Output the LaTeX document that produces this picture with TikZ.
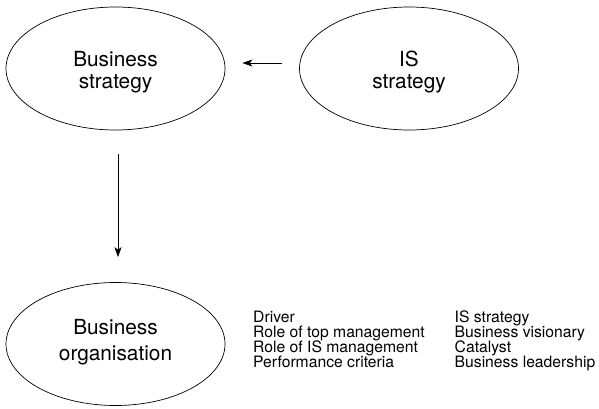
\documentclass[tikz,border=0pt]{standalone}
\usepackage{fontspec}
\setmainfont{TeX Gyre Heros}
\usetikzlibrary{shapes.geometric,arrows.meta}
\begin{document}
\begin{tikzpicture}[x=1pt,y=-1pt,
  oval/.style={ellipse,draw,line width=0.7pt,inner sep=0pt,minimum width=219pt,minimum height=123pt},
  bigtext/.style={font=\fontsize{20.8}{22}\selectfont,inner sep=0pt,anchor=base},
  smalltext/.style={font=\fontsize{15.7}{15}\selectfont,inner sep=0pt,anchor=base west},
  arr/.style={line width=0.8pt,-{Stealth[length=10pt,width=7pt,inset=2.5pt]}}]
\useasboundingbox (0,0) rectangle (599,408);
\node[oval] (bs) at (115.5,68.5) {};
\node[oval] (is) at (409,68.5) {};
\node[oval] (bo) at (115.5,344) {};
\node[bigtext] (bs1) at (115.5,66) {Business};
\node[bigtext] (bs2) at (115.5,88) {strategy};
\node[bigtext] (is1) at (409,66) {IS};
\node[bigtext] (is2) at (409,88) {strategy};
\node[bigtext] (bo1) at (115.5,334.5) {Business};
\node[bigtext] (bo2) at (115.5,360.5) {organisation};
\draw[arr,shorten <=17pt,shorten >=17pt] ([yshift=5.5pt]is.west) -- ([yshift=5.5pt]bs.east);
\draw[arr,shorten <=24pt,shorten >=25pt] ([xshift=2.5pt]bs.south) -- ([xshift=2.5pt]bo.north);
\node[smalltext] (d1) at (253,322.5) {Driver};
\node[smalltext] (d2) at (253,337.5) {Role of top management};
\node[smalltext] (d3) at (253,352.5) {Role of IS management};
\node[smalltext] (d4) at (253,367.5) {Performance criteria};
\node[smalltext] (r1) at (454.5,322.5) {IS strategy};
\node[smalltext] (r2) at (454.5,337.5) {Business visionary};
\node[smalltext] (r3) at (454.5,352.5) {Catalyst};
\node[smalltext] (r4) at (454.5,367.5) {Business leadership};
\end{tikzpicture}
\end{document}
